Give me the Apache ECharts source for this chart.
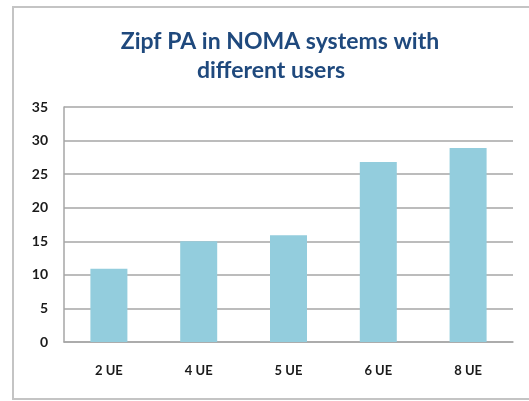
<!DOCTYPE html>
<html>
<head>
<meta charset="utf-8">
<script src="https://cdn.jsdelivr.net/npm/echarts@6/dist/echarts.min.js"></script>
<style>
  html, body { margin: 0; padding: 0; background: #fff; }
  #chart { width: 529px; height: 401px; }
</style>
</head>
<body>
<div id="chart"></div>
<script>
const categories = ["2 UE", "4 UE", "5 UE", "6 UE", "8 UE"];
const values = [10.9, 15, 15.9, 26.8, 28.9];
const titleLines = ["Zipf PA in NOMA systems with", "different users"];
const yMax = 35;
const yStep = 5;

const chart = echarts.init(document.getElementById("chart"), null, { renderer: "canvas" });

const titleStyle = {
    fill: "#1f497d",
    font: "bold 23px Lato, 'Open Sans', sans-serif",
    textAlign: "center",
    textVerticalAlign: "middle",
};

chart.setOption({
    animation: false,
    backgroundColor: "#fff",
    graphic: [
        {
            type: "rect",
            shape: { x: 13, y: 7, width: 600, height: 392 },
            style: { fill: "none", stroke: "#c4c4c4", lineWidth: 2 },
            silent: true,
        },
        { type: "text", x: 280, y: 42, style: { ...titleStyle, text: titleLines[0] } },
        { type: "text", x: 271, y: 71, style: { ...titleStyle, text: titleLines[1] } },
    ],
    grid: { left: 64, right: 16, top: 107, bottom: 59 },
    xAxis: {
        type: "category",
        data: categories,
        axisTick: { show: false },
        axisLine: { lineStyle: { color: "#a6a6a6", width: 1.5 } },
        axisLabel: {
            color: "#1a1a1a",
            fontWeight: "bold",
            fontSize: 13,
            fontFamily: "Lato, sans-serif",
            margin: 22,
        },
    },
    yAxis: {
        type: "value",
        min: 0,
        max: yMax,
        interval: yStep,
        axisLine: { show: true, lineStyle: { color: "#a6a6a6", width: 1.5 } },
        axisTick: { show: false },
        splitLine: { lineStyle: { color: "#a6a6a6", width: 1.5 } },
        axisLabel: {
            color: "#1a1a1a",
            fontWeight: "bold",
            fontSize: 14,
            fontFamily: "Lato, sans-serif",
            margin: 16,
        },
    },
    series: [
        {
            type: "bar",
            data: values,
            barWidth: 37,
            itemStyle: { color: "#93cddd" },
        },
    ],
});
</script>
</body>
</html>
